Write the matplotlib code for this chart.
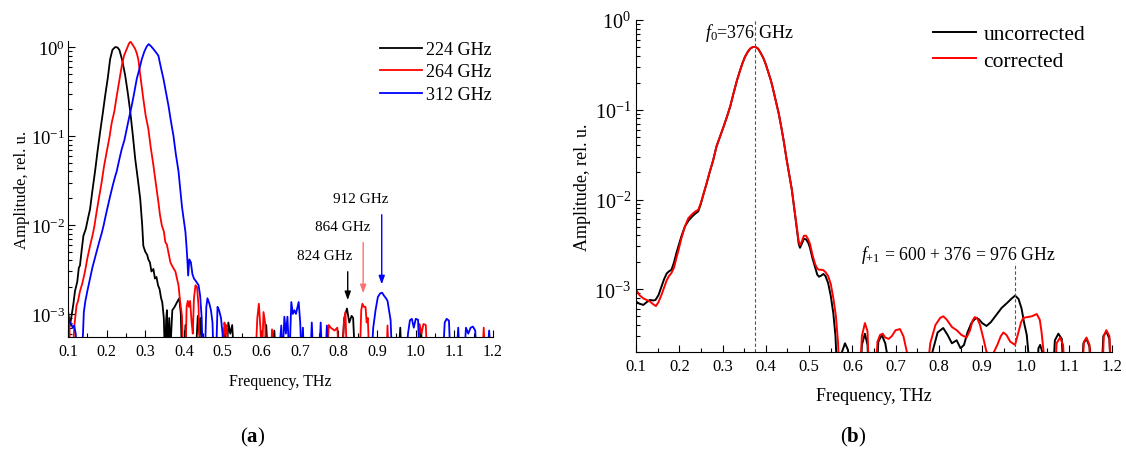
import matplotlib
matplotlib.use("Agg")
import matplotlib.pyplot as plt
from matplotlib.ticker import FixedLocator, MultipleLocator, LogLocator, NullFormatter, FormatStrFormatter

plt.rcParams["font.family"] = ["Liberation Serif", "DejaVu Serif"]
plt.rcParams["mathtext.fontset"] = "custom"
plt.rcParams["mathtext.rm"] = "Liberation Serif"
plt.rcParams["mathtext.it"] = "Liberation Serif:italic"
plt.rcParams["mathtext.bf"] = "Liberation Serif:bold"

# ---------------- (a) spectra for three pump frequencies ----------------
f224 = [0.100, 0.105, 0.110, 0.114, 0.118, 0.124, 0.128, 0.131, 0.136, 0.140, 0.146, 0.152, 0.157,
        0.163, 0.170, 0.176, 0.183, 0.190, 0.196, 0.203, 0.209, 0.215, 0.222, 0.228, 0.233, 0.240,
        0.248, 0.255, 0.261, 0.268, 0.274, 0.281, 0.287, 0.292, 0.295, 0.300, 0.305, 0.308, 0.312,
        0.316, 0.321, 0.325, 0.329, 0.333, 0.337, 0.341, 0.344, 0.348, 0.351, 0.354, 0.356, 0.359,
        0.362, 0.365, 0.370, 0.376, 0.382, 0.388, 0.392, 0.395, 0.400, 0.404, 0.407, 0.430, 0.436,
        0.440, 0.443, 0.447, 0.500, 0.505, 0.510, 0.515, 0.520, 0.525, 0.530, 0.608, 0.613, 0.618,
        0.630, 0.634, 0.638, 0.808, 0.815, 0.822, 0.828, 0.834, 0.838, 0.843, 0.955, 0.960, 0.963,
        1.010, 1.014, 1.018, 1.200]
a224 = [7.0e-4, 7.4e-4, 1.0e-3, 1.3e-3, 1.8e-3, 2.3e-3, 3.3e-3, 3.5e-3, 5.5e-3, 7.6e-3, 9.0e-3, 1.2e-2,
        1.5e-2, 2.4e-2, 4.0e-2, 6.5e-2, 0.11, 0.18, 0.28, 0.45, 0.73, 0.93, 1.0, 0.99, 0.93, 0.72,
        0.48, 0.30, 0.19, 0.10, 0.055, 0.032, 0.0195, 0.010, 5.8e-3, 5.0e-3, 4.6e-3, 4.1e-3, 3.8e-3,
        3.0e-3, 3.2e-3, 2.5e-3, 2.6e-3, 2.1e-3, 1.9e-3, 1.5e-3, 1.35e-3, 9e-4, 3e-4, 8.5e-4, 1.1e-3,
        3e-4, 9e-4, 4e-4, 1.1e-3, 1.2e-3, 1.35e-3, 1.5e-3, 1.0e-3, 3e-4, 3e-4, 7.5e-4, 3e-4, 3e-4,
        9.5e-4, 6e-4, 9e-4, 3e-4, 3e-4, 7e-4, 3e-4, 8e-4, 6e-4, 7.5e-4, 3e-4, 3e-4, 7.5e-4, 3e-4,
        3e-4, 6.5e-4, 3e-4, 3e-4, 9e-4, 1.15e-3, 8e-4, 9.5e-4, 9e-4, 3e-4, 3e-4, 7e-4, 3e-4,
        3e-4, 6.5e-4, 3e-4, 3e-4]

f264 = [0.100, 0.103, 0.106, 0.112, 0.116, 0.122, 0.126, 0.131, 0.137, 0.144, 0.150, 0.157, 0.163,
        0.168, 0.174, 0.180, 0.187, 0.193, 0.200, 0.207, 0.213, 0.220, 0.226, 0.232, 0.239, 0.245,
        0.252, 0.258, 0.262, 0.268, 0.274, 0.278, 0.282, 0.288, 0.295, 0.301, 0.308, 0.314, 0.321,
        0.327, 0.334, 0.338, 0.343, 0.348, 0.352, 0.356, 0.360, 0.365, 0.369, 0.374, 0.378, 0.382,
        0.386, 0.390, 0.395, 0.398, 0.404, 0.407, 0.410, 0.413, 0.416, 0.420, 0.423, 0.426, 0.430,
        0.434, 0.438, 0.441, 0.500, 0.505, 0.508, 0.511, 0.514, 0.585, 0.590, 0.594, 0.598, 0.602,
        0.606, 0.610, 0.614, 0.625, 0.628, 0.632, 0.770, 0.775, 0.780, 0.790, 0.797, 0.802, 0.810,
        0.814, 0.818, 0.822, 0.855, 0.859, 0.862, 0.866, 0.870, 0.873, 0.876, 0.880, 0.924, 0.927,
        0.930, 1.005, 1.010, 1.015, 1.020, 1.026, 1.030, 1.172, 1.176, 1.180, 1.200]
a264 = [1.1e-3, 9e-4, 3e-4, 3e-4, 7e-4, 1.24e-3, 1.4e-3, 1.8e-3, 2.2e-3, 3.0e-3, 4.2e-3, 5.8e-3, 7.5e-3,
        9.5e-3, 0.014, 0.020, 0.030, 0.045, 0.066, 0.095, 0.14, 0.19, 0.28, 0.40, 0.61, 0.80,
        0.95, 1.10, 1.15, 1.05, 0.95, 0.85, 0.73, 0.45, 0.26, 0.17, 0.12, 0.075, 0.047,
        0.030, 0.018, 0.013, 9.8e-3, 8.5e-3, 6.4e-3, 6.0e-3, 4.9e-3, 3.8e-3, 3.5e-3, 3.2e-3, 3.0e-3, 2.5e-3,
        2.1e-3, 1.4e-3, 9.5e-4, 3e-4, 3e-4, 1.2e-3, 1.4e-3, 1.2e-3, 1.4e-3, 8e-4, 6e-4, 1.5e-3, 2.1e-3,
        2.0e-3, 1.2e-3, 3e-4, 3e-4, 8e-4, 6e-4, 7.5e-4, 3e-4, 3e-4, 9e-4, 1.3e-3, 7e-4, 3e-4,
        1.05e-3, 8e-4, 3e-4, 3e-4, 6.7e-4, 3e-4, 3e-4, 7.5e-4, 7e-4, 6.5e-4, 7e-4, 3e-4, 3e-4,
        8e-4, 1.05e-3, 3e-4, 3e-4, 1.1e-3, 1.3e-3, 1.2e-3, 1.2e-3, 8e-4, 9e-4, 3e-4, 3e-4, 7.4e-4,
        3e-4, 3e-4, 7.7e-4, 6e-4, 7.7e-4, 7.5e-4, 3e-4, 3e-4, 7e-4, 3e-4, 3e-4]

f312 = [0.100, 0.104, 0.108, 0.112, 0.116, 0.120, 0.124, 0.136, 0.141, 0.145, 0.150, 0.157, 0.163,
        0.168, 0.174, 0.181, 0.187, 0.192, 0.198, 0.204, 0.209, 0.216, 0.222, 0.226, 0.233, 0.239,
        0.246, 0.252, 0.258, 0.265, 0.271, 0.278, 0.284, 0.291, 0.298, 0.304, 0.309, 0.315, 0.321,
        0.327, 0.334, 0.340, 0.347, 0.353, 0.360, 0.366, 0.373, 0.379, 0.386, 0.391, 0.395, 0.400,
        0.404, 0.407, 0.409, 0.411, 0.414, 0.418, 0.422, 0.426, 0.432, 0.438, 0.442, 0.446, 0.449,
        0.454, 0.458, 0.461, 0.466, 0.470, 0.474, 0.477, 0.483, 0.487, 0.491, 0.496, 0.500, 0.503,
        0.645, 0.652, 0.655, 0.660, 0.664, 0.668, 0.673, 0.678, 0.682, 0.686, 0.690, 0.694, 0.697,
        0.701, 0.705, 0.708, 0.711, 0.727, 0.731, 0.735, 0.750, 0.754, 0.758, 0.766, 0.770, 0.774,
        0.885, 0.890, 0.896, 0.902, 0.908, 0.913, 0.918, 0.923, 0.927, 0.931, 0.935, 0.939, 0.975,
        0.980, 0.985, 0.990, 0.995, 1.000, 1.006, 1.010, 1.070, 1.075, 1.080, 1.086, 1.090, 1.105,
        1.110, 1.114, 1.125, 1.130, 1.136, 1.142, 1.148, 1.154, 1.158, 1.185, 1.190, 1.195, 1.200]
a312 = [1.0e-3, 8e-4, 7.8e-4, 7e-4, 7.4e-4, 6e-4, 3e-4, 3e-4, 1.05e-3, 1.4e-3, 1.8e-3, 2.5e-3, 3.3e-3,
        4.0e-3, 5.0e-3, 6.5e-3, 8.0e-3, 9.8e-3, 0.013, 0.017, 0.021, 0.028, 0.035, 0.040, 0.055, 0.071,
        0.09, 0.12, 0.16, 0.22, 0.30, 0.44, 0.55, 0.73, 0.90, 1.02, 1.08, 1.02, 0.95,
        0.88, 0.80, 0.60, 0.44, 0.32, 0.22, 0.15, 0.10, 0.063, 0.040, 0.024, 0.016, 0.011,
        8.3e-3, 5.5e-3, 4.0e-3, 2.7e-3, 4.1e-3, 3.8e-3, 2.8e-3, 2.5e-3, 2.3e-3, 2.1e-3, 1.6e-3, 9e-4, 3e-4,
        3e-4, 1.2e-3, 1.5e-3, 1.3e-3, 1.1e-3, 8e-4, 3e-4, 3e-4, 1.2e-3, 1.1e-3, 9e-4, 6e-4, 3e-4,
        3e-4, 7.4e-4, 3e-4, 9.3e-4, 6e-4, 9.3e-4, 3e-4, 1.36e-3, 1.0e-3, 1.1e-3, 1.0e-3, 1.2e-3, 1.36e-3,
        8e-4, 3e-4, 7e-4, 3e-4, 3e-4, 8e-4, 3e-4, 3e-4, 8e-4, 3e-4, 3e-4, 7.4e-4, 3e-4,
        3e-4, 7e-4, 1.1e-3, 1.55e-3, 1.7e-3, 1.73e-3, 1.6e-3, 1.5e-3, 1.4e-3, 1.1e-3, 8.5e-4, 3e-4, 3e-4,
        6e-4, 8.5e-4, 8.8e-4, 7e-4, 8.8e-4, 8.6e-4, 3e-4, 3e-4, 8e-4, 8.8e-4, 8.4e-4, 3e-4, 3e-4,
        7e-4, 3e-4, 3e-4, 7e-4, 6e-4, 7e-4, 7.2e-4, 6.5e-4, 3e-4, 3e-4, 6.5e-4, 3e-4, 3e-4]

labels_a = ["224 GHz", "264 GHz", "312 GHz"]
colors_a = ["black", "red", "blue"]
peak_ghz = [824, 864, 912]
peak_text = ["824 GHz", "864 GHz", "912 GHz"]
arrow_colors = ["black", "#ff7070", "blue"]

# ---------------- (b) uncorrected / corrected spectra ----------------
fu = [0.100, 0.108, 0.117, 0.125, 0.132, 0.140, 0.145, 0.152, 0.159, 0.165, 0.171, 0.176, 0.182,
      0.188, 0.193, 0.198, 0.205, 0.213, 0.221, 0.229, 0.236, 0.244, 0.250, 0.256, 0.263, 0.270,
      0.278, 0.286, 0.294, 0.302, 0.310, 0.318, 0.325, 0.333, 0.340, 0.346, 0.352, 0.358, 0.364,
      0.370, 0.376, 0.382, 0.388, 0.394, 0.400, 0.406, 0.412, 0.418, 0.424, 0.430, 0.436, 0.442,
      0.448, 0.454, 0.460, 0.465, 0.471, 0.476, 0.479, 0.483, 0.488, 0.493, 0.498, 0.502, 0.508,
      0.514, 0.519, 0.523, 0.528, 0.533, 0.538, 0.544, 0.550, 0.556, 0.561, 0.568, 0.576, 0.583,
      0.590, 0.596, 0.615, 0.622, 0.629, 0.635, 0.641, 0.652, 0.660, 0.668, 0.676, 0.684, 0.692,
      0.770, 0.785, 0.797, 0.810, 0.820, 0.830, 0.841, 0.850, 0.858, 0.866, 0.875, 0.882, 0.887,
      0.893, 0.900, 0.910, 0.920, 0.933, 0.945, 0.957, 0.967, 0.976, 0.984, 0.991, 0.997, 1.003,
      1.009, 1.015, 1.024, 1.030, 1.034, 1.039, 1.045, 1.060, 1.068, 1.076, 1.084, 1.091, 1.125,
      1.134, 1.141, 1.148, 1.155, 1.172, 1.180, 1.187, 1.194, 1.200]
au = [7.3e-4, 6.9e-4, 6.7e-4, 7.2e-4, 7.6e-4, 7.5e-4, 7.6e-4, 8.6e-4, 1.07e-3, 1.3e-3, 1.5e-3, 1.58e-3, 1.65e-3,
      2.0e-3, 2.5e-3, 3.0e-3, 3.9e-3, 5.0e-3, 5.8e-3, 6.4e-3, 6.9e-3, 7.4e-3, 9.0e-3, 0.0115, 0.015, 0.020,
      0.027, 0.039, 0.050, 0.064, 0.083, 0.11, 0.15, 0.21, 0.27, 0.33, 0.39, 0.44, 0.48,
      0.50, 0.50, 0.48, 0.43, 0.38, 0.32, 0.26, 0.21, 0.16, 0.12, 0.09, 0.063, 0.043,
      0.028, 0.019, 0.013, 8.5e-3, 5.0e-3, 3.2e-3, 2.9e-3, 3.2e-3, 3.65e-3, 3.6e-3, 3.3e-3, 2.9e-3, 2.2e-3,
      1.75e-3, 1.45e-3, 1.38e-3, 1.42e-3, 1.48e-3, 1.4e-3, 1.17e-3, 8.5e-4, 5.4e-4, 3e-4, 5e-5, 2.0e-4, 2.5e-4,
      2.1e-4, 5e-5, 5e-5, 2.4e-4, 3.2e-4, 2.4e-4, 5e-5, 5e-5, 2.6e-4, 3.1e-4, 2.5e-4, 1.5e-4, 5e-5,
      5e-5, 2.0e-4, 3.3e-4, 3.7e-4, 3.1e-4, 2.5e-4, 2.7e-4, 2.2e-4, 2.4e-4, 3.3e-4, 4.2e-4, 4.6e-4, 4.8e-4,
      4.6e-4, 4.2e-4, 3.9e-4, 4.3e-4, 5.2e-4, 6.2e-4, 7.0e-4, 7.8e-4, 8.5e-4, 7.8e-4, 6.1e-4, 4.2e-4, 3.1e-4,
      1.5e-4, 5e-5, 5e-5, 2.2e-4, 2.4e-4, 2.0e-4, 5e-5, 5e-5, 2.7e-4, 3.2e-4, 2.8e-4, 5e-5, 5e-5,
      2.5e-4, 2.8e-4, 2.3e-4, 5e-5, 5e-5, 3.0e-4, 3.4e-4, 2.8e-4, 5e-5]

fc = [0.100, 0.108, 0.117, 0.125, 0.132, 0.140, 0.146, 0.152, 0.159, 0.165, 0.171, 0.176, 0.182,
      0.188, 0.193, 0.198, 0.205, 0.213, 0.221, 0.229, 0.236, 0.244, 0.250, 0.256, 0.263, 0.270,
      0.278, 0.286, 0.294, 0.302, 0.310, 0.318, 0.325, 0.333, 0.340, 0.346, 0.352, 0.358, 0.364,
      0.370, 0.376, 0.382, 0.388, 0.394, 0.400, 0.406, 0.412, 0.418, 0.424, 0.430, 0.436, 0.442,
      0.448, 0.454, 0.460, 0.465, 0.471, 0.476, 0.479, 0.483, 0.488, 0.493, 0.498, 0.502, 0.508,
      0.514, 0.519, 0.523, 0.528, 0.533, 0.538, 0.544, 0.550, 0.556, 0.562, 0.567, 0.572, 0.615,
      0.622, 0.629, 0.635, 0.641, 0.650, 0.658, 0.664, 0.670, 0.676, 0.684, 0.691, 0.700, 0.710,
      0.718, 0.726, 0.733, 0.765, 0.780, 0.792, 0.803, 0.810, 0.818, 0.830, 0.841, 0.852, 0.864,
      0.872, 0.878, 0.883, 0.889, 0.895, 0.903, 0.910, 0.918, 0.925, 0.935, 0.943, 0.949, 0.956,
      0.965, 0.976, 0.983, 0.990, 0.995, 1.005, 1.015, 1.026, 1.033, 1.037, 1.042, 1.047, 1.065,
      1.072, 1.080, 1.087, 1.094, 1.128, 1.135, 1.141, 1.148, 1.155, 1.175, 1.181, 1.187, 1.194, 1.200]
ac = [1.0e-3, 8.6e-4, 7.9e-4, 7.6e-4, 7.3e-4, 6.8e-4, 6.5e-4, 7.2e-4, 8.7e-4, 1.05e-3, 1.26e-3, 1.4e-3, 1.52e-3,
      1.75e-3, 2.2e-3, 2.7e-3, 3.7e-3, 5.0e-3, 6.2e-3, 6.8e-3, 7.3e-3, 7.7e-3, 9.2e-3, 0.0115, 0.015, 0.020,
      0.027, 0.039, 0.050, 0.064, 0.083, 0.11, 0.15, 0.21, 0.27, 0.33, 0.39, 0.44, 0.48,
      0.50, 0.50, 0.48, 0.43, 0.38, 0.32, 0.26, 0.21, 0.16, 0.12, 0.09, 0.063, 0.043,
      0.028, 0.019, 0.013, 8.6e-3, 5.2e-3, 3.4e-3, 3.1e-3, 3.4e-3, 3.95e-3, 3.95e-3, 3.6e-3, 3.2e-3, 2.4e-3,
      1.9e-3, 1.7e-3, 1.65e-3, 1.65e-3, 1.63e-3, 1.55e-3, 1.4e-3, 1.15e-3, 8e-4, 5e-4, 2.5e-4, 5e-5, 5e-5,
      3.0e-4, 4.2e-4, 3.4e-4, 5e-5, 5e-5, 2.6e-4, 3.1e-4, 3.2e-4, 2.9e-4, 2.8e-4, 3.0e-4, 3.5e-4, 3.6e-4,
      3.0e-4, 2.0e-4, 5e-5, 5e-5, 2.5e-4, 4.0e-4, 4.8e-4, 5.0e-4, 4.6e-4, 3.8e-4, 3.5e-4, 3.1e-4, 2.9e-4,
      3.5e-4, 4.5e-4, 4.9e-4, 4.7e-4, 4.0e-4, 2.8e-4, 2.0e-4, 1.9e-4, 1.9e-4, 2.4e-4, 3.0e-4, 3.3e-4, 3.1e-4,
      2.6e-4, 2.4e-4, 3.2e-4, 4.3e-4, 4.8e-4, 4.9e-4, 5.0e-4, 5.3e-4, 4.6e-4, 3.4e-4, 2.0e-4, 5e-5, 5e-5,
      2.5e-4, 2.9e-4, 2.4e-4, 5e-5, 5e-5, 2.6e-4, 2.9e-4, 2.4e-4, 5e-5, 5e-5, 3.0e-4, 3.5e-4, 3.0e-4, 5e-5]

f0_ghz = 376
shift_ghz = 600
x_ticks = [0.1, 0.2, 0.3, 0.4, 0.5, 0.6, 0.7, 0.8, 0.9, 1.0, 1.1, 1.2]

W, H = 1126, 452
fig = plt.figure(figsize=(W / 100, H / 100), dpi=100)


def px_axes(left, top, right, bottom):
    return fig.add_axes([left / W, 1 - bottom / H, (right - left) / W, (bottom - top) / H])


def style_axes(ax, xtick_size, ytick_size, ypad):
    ax.spines["top"].set_visible(False)
    ax.spines["right"].set_visible(False)
    ax.set_yscale("log")
    ax.set_xlim(0.1, 1.2)
    ax.xaxis.set_major_locator(FixedLocator(x_ticks))
    ax.xaxis.set_minor_locator(MultipleLocator(0.05))
    ax.xaxis.set_major_formatter(FormatStrFormatter("%.1f"))
    ax.yaxis.set_major_locator(LogLocator(base=10, numticks=10))
    ax.yaxis.set_minor_locator(LogLocator(base=10, subs=range(2, 10), numticks=20))
    ax.yaxis.set_minor_formatter(NullFormatter())
    ax.tick_params(which="both", direction="in")
    ax.tick_params(axis="x", labelsize=xtick_size, pad=4)
    ax.tick_params(axis="y", labelsize=ytick_size, pad=ypad)
    ax.tick_params(which="major", length=5, width=0.8)
    ax.tick_params(which="minor", length=3, width=0.8)


# ---- panel (a)
ax1 = px_axes(68, 42, 493, 338)
for f, a, lab, c in zip([f224, f264, f312], [a224, a264, a312], labels_a, colors_a):
    ax1.plot(f, a, color=c, lw=1.3, label=lab)
style_axes(ax1, 11.5, 13.5, 2)
ax1.set_ylim(5.5e-4, 1.17)
ax1.set_xlabel("Frequency, THz", fontsize=11.5)
ax1.set_ylabel("Amplitude, rel. u.", fontsize=12)
ax1.xaxis.set_label_coords(0.5, -0.122)
ax1.yaxis.set_label_coords(-0.09, 0.5)
ax1.legend(loc="upper left", bbox_to_anchor=(380 / W, 1 - 42 / H), bbox_transform=fig.transFigure,
           frameon=False, fontsize=13, handlelength=2.3, handletextpad=0.25, labelspacing=0.3,
           borderpad=0, borderaxespad=0)

text_y = [4.5e-3, 9.5e-3, 0.0196]
text_x = [0.764, 0.811, 0.857]
tail_y = [3.2e-3, 6.8e-3, 0.014]
head_y = [1.33e-3, 1.59e-3, 2.0e-3]
for g, t, c, tx, ty, y0, y1 in zip(peak_ghz, peak_text, arrow_colors, text_x, text_y, tail_y, head_y):
    ax1.text(tx, ty, t, fontsize=11, ha="center", va="center")
    ax1.annotate("", xy=(g / 1000, y1), xytext=(g / 1000, y0),
                 arrowprops=dict(arrowstyle="-|>,head_length=0.5,head_width=0.18", color=c, lw=1.0))

# ---- panel (b)
ax2 = px_axes(636, 21, 1112, 353)
ax2.plot(fu, au, color="black", lw=1.4, label="uncorrected")
ax2.plot(fc, ac, color="red", lw=1.4, label="corrected")
style_axes(ax2, 12, 14.5, 3.5)
ax2.set_ylim(2e-4, 1.0)
ax2.set_xlabel("Frequency, THz", fontsize=13)
ax2.set_ylabel("Amplitude, rel. u.", fontsize=13)
ax2.xaxis.set_label_coords(0.5, -0.105)
ax2.yaxis.set_label_coords(-0.095, 0.5)
ax2.legend(loc="upper left", bbox_to_anchor=(933 / W, 1 - 25 / H), bbox_transform=fig.transFigure,
           frameon=False, fontsize=15.5, handlelength=2.0, handletextpad=0.35, labelspacing=0.32,
           borderpad=0, borderaxespad=0)

f0 = f0_ghz / 1000
f1 = (shift_ghz + f0_ghz) / 1000
ax2.axvline(f0, color="#555555", lw=0.8, ls=(0, (3, 2)))
ax2.plot([f1, f1], [2e-4, 1.95e-3], color="#555555", lw=0.8, ls=(0, (3, 2)))
ax2.text(0.363, 0.74, r"$f_0$=%d GHz" % f0_ghz, fontsize=13, ha="center", va="center")
ax2.text(0.845, 2.5e-3, r"$f_{+1}$ = %d + %d = %d GHz" % (shift_ghz, f0_ghz, shift_ghz + f0_ghz),
         fontsize=12.8, ha="center", va="center")

fig.text(253 / W, 1 - 437 / H, r"($\mathbf{a}$)", fontsize=15, ha="center", va="center")
fig.text(853 / W, 1 - 437 / H, r"($\mathbf{b}$)", fontsize=15, ha="center", va="center")

fig.savefig("out.png", dpi=100)
